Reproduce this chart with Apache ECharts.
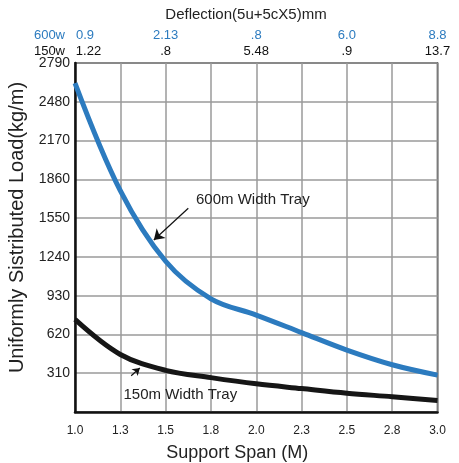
<!DOCTYPE html>
<html>
<head>
<meta charset="utf-8">
<script src="https://cdn.jsdelivr.net/npm/echarts@6/dist/echarts.min.js"></script>
<style>
  html, body { margin: 0; padding: 0; background: #fff; }
  #chart { width: 459px; height: 463px; }
</style>
</head>
<body>
<div id="chart"></div>
<script>
// ---- data ----
const spanLabels = ['1.0', '1.3', '1.5', '1.8', '2.0', '2.3', '2.5', '2.8', '3.0'];
const load600 = [2630, 1770, 1205, 905, 775, 635, 495, 378, 295];
const load150 = [740, 460, 333, 275, 225, 187, 150, 122, 92];
const yTickLabels = ['', '310', '620', '930', '1240', '1550', '1860', '2170', '2480', '2790'];
const deflection600 = ['0.9', '2.13', '.8', '6.0', '8.8'];
const deflection150 = ['1.22', '.8', '5.48', '.9', '13.7'];
const rowNames = ['600w', '150w'];
const title = 'Deflection(5u+5cX5)mm';
const xName = 'Support Span (M)';
const yName = 'Uniformly Sistributed Load(kg/m)';
const trayNames = ['600m Width Tray', '150m Width Tray'];
// annotation anchors in data space [span index, load]
const label600At = [2.67, 1696];
const arrow600 = [[2.50, 1629], [1.74, 1375]];
const label150At = [1.07, 138];
const arrow150 = [[1.24, 290], [1.43, 352]];

const FONT = '"Liberation Sans", Arial, sans-serif';
const BLUE = '#2c7bbf';
const DARK = '#161616';

const chart = echarts.init(document.getElementById('chart'), null, { renderer: 'canvas' });

function topAxis(values, color, offset, firstPad) {
  return {
    type: 'value', position: 'top', min: 0, max: 8, interval: 1, offset: offset,
    axisLine: { show: false }, axisTick: { show: false }, splitLine: { show: false },
    axisLabel: {
      margin: 0, verticalAlign: 'middle', color: color, fontSize: 13, fontFamily: FONT,
      showMinLabel: true, showMaxLabel: true,
      formatter: function (v) {
        if (v % 2 !== 0) return '';
        const t = values[v / 2];
        return v === 0 ? '{f|' + t + '}' : t;
      },
      rich: { f: { color: color, fontSize: 13, fontFamily: FONT, padding: [0, 0, 0, firstPad] } }
    }
  };
}

const option = {
  animation: false,
  backgroundColor: '#fff',
  grid: { left: 75, right: 21.5, top: 63, bottom: 51, containLabel: false, outerBoundsMode: 'none',
    show: true, borderColor: '#222', borderWidth: 1.5, backgroundColor: 'transparent' },
  graphic: [
    { type: 'text', x: 246, y: 15,
      style: { text: title, fill: '#222', font: '15px ' + FONT, textAlign: 'center', textVerticalAlign: 'middle' } },
    { type: 'text', x: 65, y: 35,
      style: { text: rowNames[0], fill: BLUE, font: '13px ' + FONT, textAlign: 'right', textVerticalAlign: 'middle' } },
    { type: 'text', x: 65, y: 51,
      style: { text: rowNames[1], fill: '#111', font: '13px ' + FONT, textAlign: 'right', textVerticalAlign: 'middle' } }
  ],
  xAxis: [
    {
      type: 'value', min: 0, max: 8, interval: 1, position: 'bottom',
      axisLine: { show: true, onZero: false, lineStyle: { color: '#111', width: 2.5 } },
      axisTick: { show: false },
      splitLine: { show: true, lineStyle: { color: '#9a9a9a', width: 1.5 } },
      axisLabel: { margin: 13, color: '#222', fontSize: 12, fontFamily: FONT, formatter: v => spanLabels[v] },
      name: xName, nameLocation: 'middle', nameGap: 32,
      nameTextStyle: { color: '#222', fontSize: 18, fontFamily: FONT, padding: [0, 38, 0, 0] }
    },
    topAxis(deflection600, BLUE, 28, 20),
    topAxis(deflection150, '#111', 12, 27)
  ],
  yAxis: {
    type: 'value', min: 0, max: 2790, interval: 310,
    axisLine: { show: true, lineStyle: { color: '#111', width: 2.5 } },
    axisTick: { show: false },
    splitLine: { show: true, lineStyle: { color: '#9a9a9a', width: 1.5 } },
    axisLabel: { margin: 5, color: '#222', fontSize: 14, fontFamily: FONT, formatter: v => yTickLabels[Math.round(v / 310)] },
    name: yName, nameLocation: 'middle', nameGap: 39,
    nameTextStyle: { color: '#222', fontSize: 20, fontFamily: FONT, padding: [0, 0, 0, 20] }
  },
  series: [
    {
      name: '600w', type: 'line', xAxisIndex: 0, smooth: 0.35, symbol: 'none',
      data: load600.map((v, i) => [i, v]),
      lineStyle: { color: BLUE, width: 5 },
      markLine: {
        silent: true, symbol: ['none', 'arrow'], symbolSize: 10, z: 10,
        lineStyle: { color: '#111', width: 1.2, type: 'solid' }, label: { show: false },
        data: [[{ coord: arrow600[0] }, { coord: arrow600[1] }]]
      },
      markPoint: {
        silent: true,
        data: [{ coord: label600At, symbol: 'circle', symbolSize: 0,
          label: { show: true, position: 'right', distance: 0, formatter: trayNames[0], color: '#222', fontSize: 15, fontFamily: FONT } }]
      },
      z: 3
    },
    {
      name: '150w', type: 'line', xAxisIndex: 0, smooth: 0.35, symbol: 'none',
      data: load150.map((v, i) => [i, v]),
      lineStyle: { color: DARK, width: 5 },
      markLine: {
        silent: true, symbol: ['none', 'arrow'], symbolSize: 7, z: 10,
        lineStyle: { color: '#111', width: 1.2, type: 'solid' }, label: { show: false },
        data: [[{ coord: arrow150[0] }, { coord: arrow150[1] }]]
      },
      markPoint: {
        silent: true,
        data: [{ coord: label150At, symbol: 'circle', symbolSize: 0,
          label: { show: true, position: 'right', distance: 0, formatter: trayNames[1], color: '#222', fontSize: 15, fontFamily: FONT } }]
      },
      z: 3
    }
  ]
};
chart.setOption(option);
</script>
</body>
</html>
